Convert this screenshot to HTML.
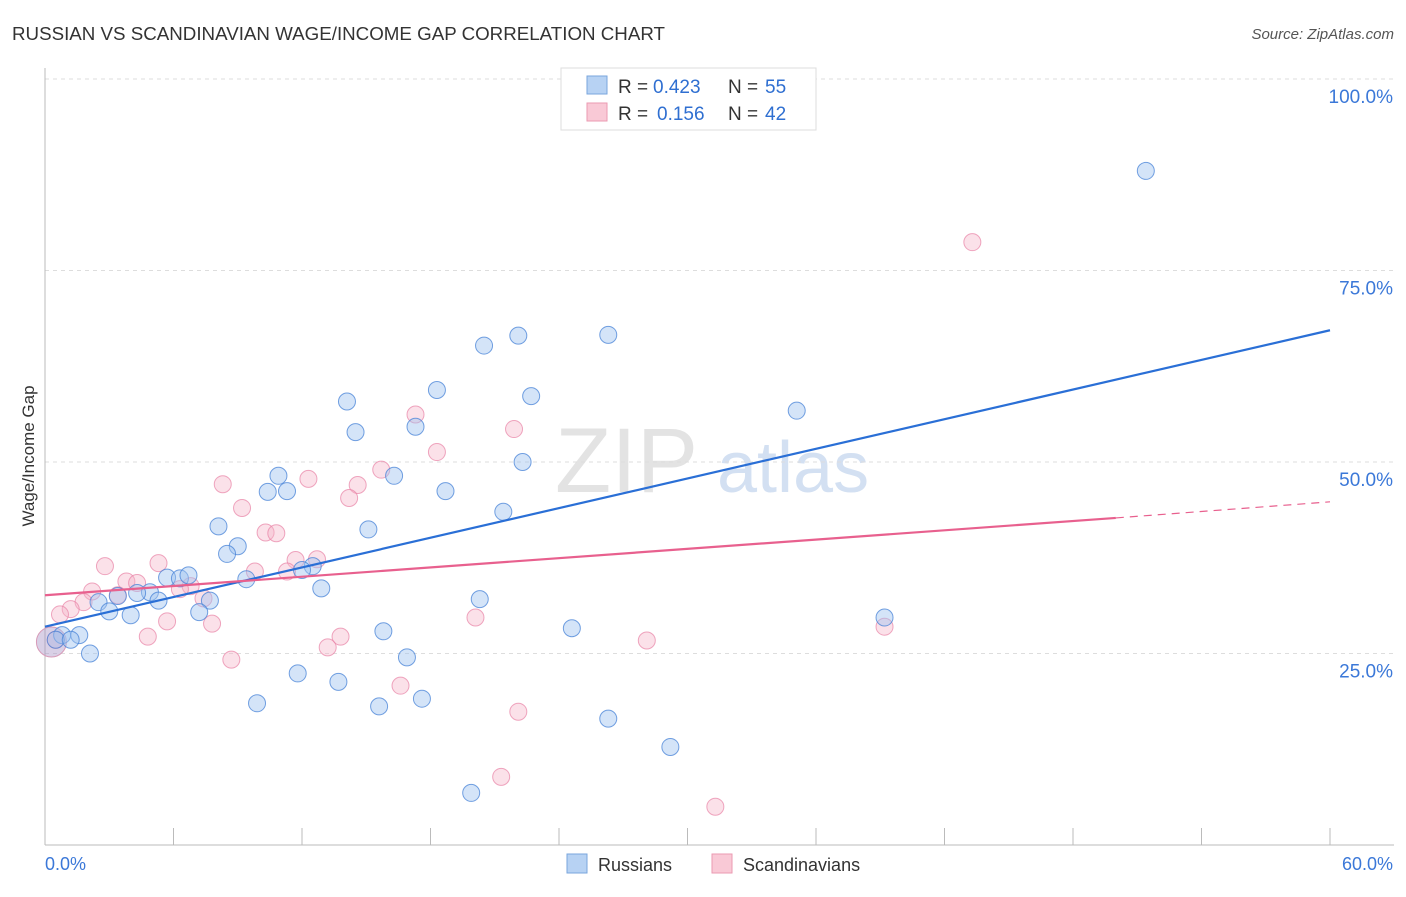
<!DOCTYPE html>
<html><head><meta charset="utf-8">
<style>
body{margin:0;background:#fff;font-family:"Liberation Sans",sans-serif;}
svg text{font-family:"Liberation Sans",sans-serif;}
</style></head>
<body>
<svg id="chart" width="1406" height="892" xmlns="http://www.w3.org/2000/svg">
<text x="12" y="40" font-size="18" fill="#333" textLength="653" lengthAdjust="spacingAndGlyphs">RUSSIAN VS SCANDINAVIAN WAGE/INCOME GAP CORRELATION CHART</text>
<text x="1394" y="39" font-size="15" fill="#555" text-anchor="end" font-style="italic">Source: ZipAtlas.com</text>
<text x="555" y="492" font-size="92" fill="#ddd" font-family="Liberation Serif" opacity="0.8">ZIP</text>
<text x="717" y="492" font-size="72" fill="#c9d9ef" opacity="0.8">atlas</text>
<g id="grid"></g>
<g id="axes"></g>
<g id="pts"></g>
<g id="lines"></g>
<text transform="translate(34,456) rotate(-90)" font-size="17" fill="#333" text-anchor="middle">Wage/Income Gap</text>
<g>
<rect x="561" y="68" width="255" height="62" fill="#fff" stroke="#ddd"/>
<rect x="587" y="76" width="20" height="18" fill="#b7d2f3" stroke="#7aa6dd"/>
<rect x="587" y="103" width="20" height="18" fill="#f9c9d6" stroke="#eb9ab2"/>
<text x="618" y="93" font-size="19" fill="#333">R =</text><text x="653" y="93" font-size="19" fill="#2f6fd1">0.423</text>
<text x="728" y="93" font-size="19" fill="#333">N =</text><text x="765" y="93" font-size="19" fill="#2f6fd1">55</text>
<text x="618" y="120" font-size="19" fill="#333">R =</text><text x="657" y="120" font-size="19" fill="#2f6fd1">0.156</text>
<text x="728" y="120" font-size="19" fill="#333">N =</text><text x="765" y="120" font-size="19" fill="#2f6fd1">42</text>
</g>
<g>
<rect x="567" y="854" width="20" height="19" fill="#b7d2f3" stroke="#7aa6dd"/>
<text x="598" y="871" font-size="18" fill="#333">Russians</text>
<rect x="712" y="854" width="20" height="19" fill="#f9c9d6" stroke="#eb9ab2"/>
<text x="743" y="871" font-size="18" fill="#333">Scandinavians</text>
</g>
</svg>
<script>
const xTickLabels=["0.0%","60.0%"];
const yTicks=[25,50,75,100];
const russX=[51.4,22.1,26.3,20.5,18.3,22.7,14.1,35.1,14.5,17.3,22.3,10.9,16.3,10.4,11.3,18.7,21.4,8.1,15.1,9.0,8.5,12.5,12.0,5.7,6.3,6.7,9.4,12.9,4.9,4.3,3.4,2.5,5.3,7.7,7.2,3.0,4.0,20.3,39.2,15.8,24.6,0.8,1.6,0.5,1.2,2.1,16.9,11.8,13.7,9.9,17.6,15.6,26.3,29.2,19.9];
const russY=[88.0,66.5,66.6,65.2,59.4,58.6,57.9,56.7,53.9,54.6,50.0,48.2,48.2,46.1,46.2,46.2,43.5,41.6,41.2,39.0,38.0,36.4,35.9,34.9,34.8,35.2,34.7,33.5,33.0,32.9,32.5,31.7,31.9,31.9,30.4,30.5,30.0,32.1,29.7,27.9,28.3,27.4,27.4,26.8,26.8,25.0,24.5,22.4,21.3,18.5,19.1,18.1,16.5,12.8,6.8];
const scanX=[43.3,17.3,18.3,21.9,15.7,12.3,8.3,14.6,14.2,9.2,10.3,10.8,2.8,5.3,11.7,12.7,9.8,11.3,3.8,4.3,6.8,2.2,6.3,3.4,1.8,1.2,0.7,7.4,5.7,7.8,20.1,4.8,13.8,13.2,28.1,39.2,0.5,8.7,16.6,22.1,21.3,31.3];
const scanY=[78.7,56.2,51.3,54.3,49.0,47.8,47.1,47.0,45.3,44.0,40.8,40.7,36.4,36.8,37.2,37.3,35.7,35.7,34.4,34.2,33.8,33.1,33.4,32.6,31.7,30.8,30.1,32.2,29.2,28.9,29.7,27.2,27.2,25.8,26.7,28.5,26.8,24.2,20.8,17.4,8.9,5.0];
const russTrend=[28.5,67.2];
const scanTrend=[32.6,42.7,44.8];
const NS="http://www.w3.org/2000/svg";
const X=v=>45+v/60*1285, Y=v=>845-v*7.66;
function mk(t,a,p){const e=document.createElementNS(NS,t);for(const k in a)e.setAttribute(k,a[k]);document.getElementById(p).appendChild(e);return e;}
yTicks.forEach(t=>{
 const l=mk('line',{x1:45,x2:1394,y1:Y(t),y2:Y(t),stroke:'#ddd','stroke-dasharray':'4,4'},'grid');
 
 
 const tx=mk('text',{x:1393,y:Y(t)+24,'font-size':19,fill:'#3b78d8','text-anchor':'end'},'grid');
 tx.textContent=t.toFixed(1)+'%';
 
 
});
let ax=mk('line',{x1:45,x2:45,y1:68,y2:845,stroke:'#bbb'},'axes');


ax=mk('line',{x1:45,x2:1394,y1:845,y2:845,stroke:'#bbb'},'axes');


for(let i=0;i<=10;i++){const t=mk('line',{x1:X(i*6),x2:X(i*6),y1:828,y2:845,stroke:'#bbb'},'axes');
 
 }
[[0,'start',xTickLabels[0]],[60,'end',xTickLabels[1]]].forEach(([v,a,s])=>{const t=mk('text',{x:X(v)+(v?63:0),y:870,'font-size':18,fill:'#3b78d8','text-anchor':a},'axes');t.textContent=s;
 
 });
const big=mk('circle',{cx:X(0.3),cy:Y(26.5),r:15,fill:'rgba(170,150,200,0.45)',stroke:'#d89ab8'},'pts');


scanX.forEach((x,i)=>{const c=mk('circle',{cx:X(x),cy:Y(scanY[i]),r:8.5,fill:'rgba(246,180,200,0.4)',stroke:'rgba(232,130,165,0.7)'},'pts');
 
 });
russX.forEach((x,i)=>{const c=mk('circle',{cx:X(x),cy:Y(russY[i]),r:8.5,fill:'rgba(160,195,240,0.45)',stroke:'rgba(70,130,215,0.75)'},'pts');
 
 });
let l=mk('line',{x1:X(0),y1:Y(russTrend[0]),x2:X(60),y2:Y(russTrend[1]),stroke:'#2a6fd6','stroke-width':2.2},'lines');


l=mk('line',{x1:X(0),y1:Y(scanTrend[0]),x2:X(50),y2:Y(scanTrend[1]),stroke:'#e8608e','stroke-width':2.2},'lines');


l=mk('line',{x1:X(50),y1:Y(scanTrend[1]),x2:X(60),y2:Y(scanTrend[2]),stroke:'#e8608e','stroke-width':1.2,'stroke-dasharray':'8,6'},'lines');


</script>
</body></html>
